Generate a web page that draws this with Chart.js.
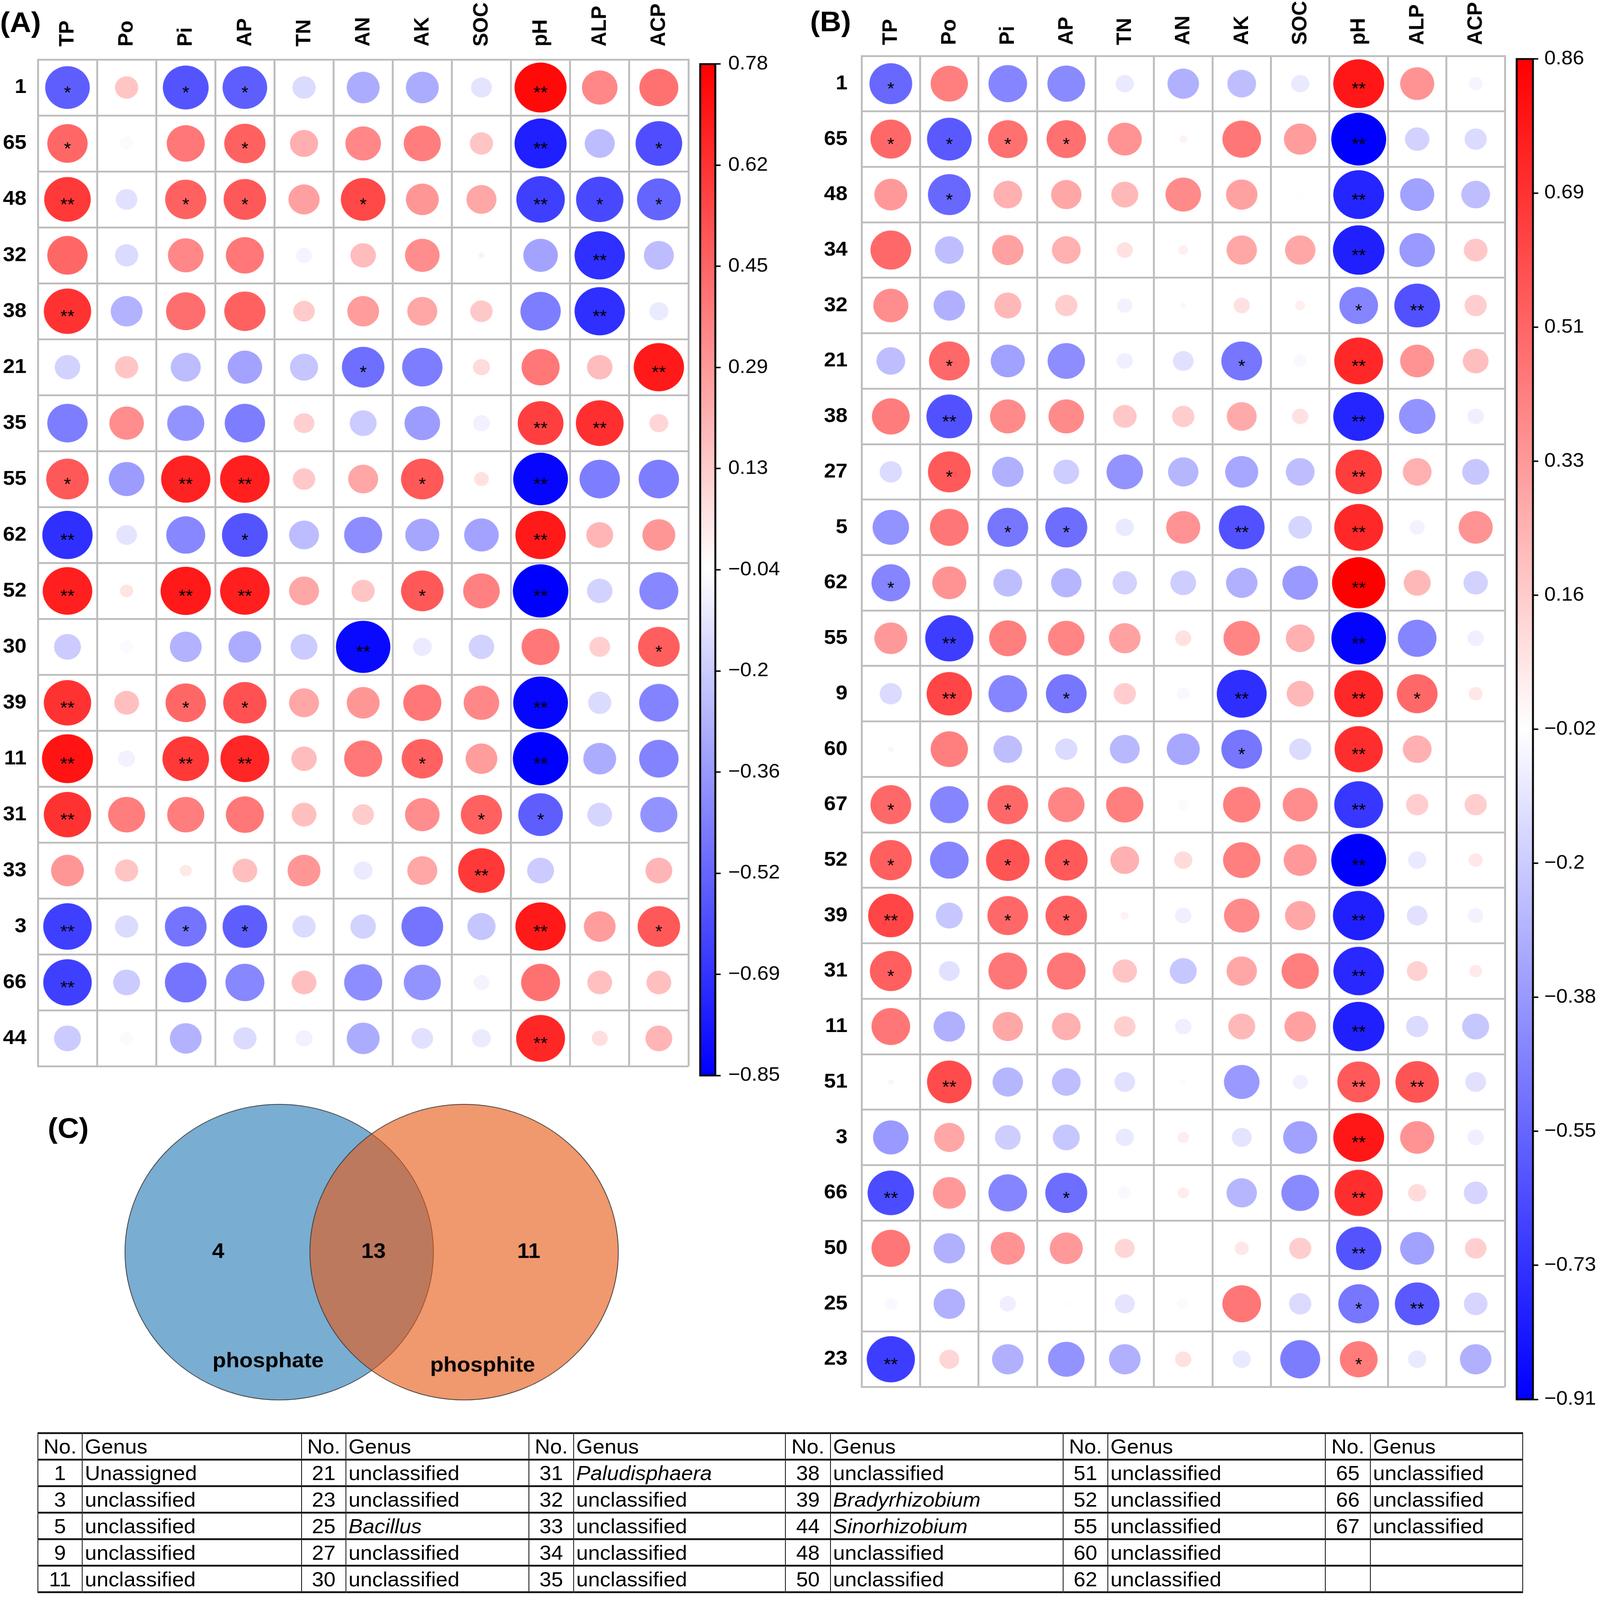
<!DOCTYPE html>
<html>
<head>
<meta charset="utf-8">
<script src="https://cdn.jsdelivr.net/npm/chart.js@4.4.1/dist/chart.umd.min.js"></script>
<style>
  html, body { margin: 0; background: #fff; overflow: hidden; }
  #fig { position: absolute; left: 0; top: 0; width: 4223px; height: 4406px; transform-origin: 0 0;
         font-family: 'Liberation Sans', Arial, sans-serif; background: #fff; }
  canvas { position: absolute; }
  .tag { position: absolute; font-weight: bold; font-size: 78px; line-height: 1; }
  #genera { position: absolute; left: 99px; top: 3944px; border-collapse: collapse; table-layout: fixed;
            font-size: 56px; }
  #genera td { height: 68px; padding: 0 6px; vertical-align: middle; white-space: nowrap; overflow: hidden;
               border-top: 5px solid #111; border-bottom: 5px solid #111;
               border-left: 2px solid #000; border-right: 2px solid #000; }
  #genera td.no { text-align: center; padding: 0; }
</style>
</head>
<body>
<div id="fig">
<div class="tag" style="left:0px;top:22px">(A)</div>
<div class="tag" style="left:2138px;top:20px">(B)</div>
<div class="tag" style="left:126px;top:3068px">(C)</div>

<canvas id="corrA" width="1833" height="3000" style="left:0px;top:0px"></canvas>
<canvas id="barA" width="320" height="2890" style="left:1833px;top:124px"></canvas>
<canvas id="corrB" width="1850" height="3890" style="left:2140px;top:0px"></canvas>
<canvas id="barB" width="235" height="3788" style="left:3988px;top:114px"></canvas>
<canvas id="venn" width="1750" height="900" style="left:0px;top:3000px"></canvas>
<table id="genera"></table>
</div>

<script>
// ---- data ----
const factors = ['TP', 'Po', 'Pi', 'AP', 'TN', 'AN', 'AK', 'SOC', 'pH', 'ALP', 'ACP'];

// (A) phosphate
const rowsA = ['1', '65', '48', '32', '38', '21', '35', '55', '62', '52', '30', '39', '11', '31', '33', '3', '66', '44'];
const valuesA = [
  [-0.55, 0.15, -0.58, -0.55, -0.15, -0.30, -0.30, -0.12, 0.75, 0.35, 0.42],
  [0.45, -0.05, 0.40, 0.47, 0.22, 0.35, 0.38, 0.15, -0.75, -0.25, -0.60],
  [0.60, -0.13, 0.47, 0.50, 0.27, 0.55, 0.30, 0.25, -0.65, -0.62, -0.53],
  [0.45, -0.15, 0.35, 0.40, -0.07, 0.18, 0.33, 0.01, -0.33, -0.70, -0.25],
  [0.62, -0.28, 0.43, 0.47, 0.13, 0.28, 0.25, 0.14, -0.45, -0.70, -0.10],
  [-0.18, 0.15, -0.25, -0.33, -0.22, -0.50, -0.45, 0.08, 0.40, 0.18, 0.70],
  [-0.45, 0.33, -0.38, -0.45, 0.12, -0.20, -0.35, -0.08, 0.58, 0.63, 0.10],
  [0.50, -0.35, 0.67, 0.68, 0.14, 0.25, 0.50, 0.06, -0.83, -0.45, -0.45],
  [-0.70, -0.12, -0.42, -0.58, -0.25, -0.40, -0.32, -0.33, 0.70, 0.20, 0.30],
  [0.68, 0.05, 0.70, 0.68, 0.25, 0.15, 0.50, 0.37, -0.85, -0.18, -0.42],
  [-0.20, -0.05, -0.28, -0.30, -0.20, -0.82, -0.10, -0.18, 0.40, 0.12, 0.48],
  [0.62, 0.17, 0.45, 0.52, 0.25, 0.30, 0.40, 0.35, -0.83, -0.15, -0.43],
  [0.72, -0.08, 0.60, 0.66, 0.18, 0.40, 0.47, 0.28, -0.85, -0.30, -0.43],
  [0.62, 0.38, 0.38, 0.40, 0.17, 0.13, 0.33, 0.47, -0.55, -0.17, -0.38],
  [0.30, 0.15, 0.04, 0.17, 0.30, -0.10, 0.25, 0.60, -0.20, 0.00, 0.20],
  [-0.65, -0.15, -0.48, -0.55, -0.15, -0.18, -0.48, -0.22, 0.70, 0.28, 0.50],
  [-0.65, -0.20, -0.48, -0.42, 0.17, -0.40, -0.38, -0.07, 0.42, 0.17, 0.17],
  [-0.20, -0.05, -0.28, -0.15, -0.08, -0.30, -0.13, -0.10, 0.66, 0.07, 0.20]
];
// number of stars per cell (1 = *, 2 = **)
const starsA = ['10110000200', '10010000201', '20110100211', '00000000020', '20000000020', '00000100002',
  '00000000220', '10220010200', '20010000200', '20220010200', '00000200001', '20110000200',
  '20220010200', '20000001100', '00000002000', '20110000201', '20000000000', '00000000200'];
const rangeA = [-0.85, 0.78];
const barTicksA = ['0.78', '0.62', '0.45', '0.29', '0.13', '−0.04', '−0.2', '−0.36', '−0.52', '−0.69', '−0.85'];

// (B) phosphite
const rowsB = ['1', '65', '48', '34', '32', '21', '38', '27', '5', '62', '55', '9', '60', '67', '52', '39', '31', '11',
  '51', '3', '66', '50', '25', '23'];
const valuesB = [
  [-0.55, 0.42, -0.45, -0.43, -0.10, -0.30, -0.25, -0.10, 0.78, 0.35, -0.06],
  [0.50, -0.60, 0.47, 0.47, 0.35, 0.02, 0.45, 0.32, -0.91, -0.18, -0.15],
  [0.33, -0.55, 0.25, 0.28, 0.22, 0.38, 0.30, -0.03, -0.78, -0.35, -0.25],
  [0.50, -0.25, 0.30, 0.25, 0.08, 0.03, 0.28, 0.28, -0.80, -0.38, 0.17],
  [0.37, -0.30, 0.22, 0.15, -0.07, 0.01, 0.08, 0.03, -0.45, -0.63, 0.15],
  [-0.25, 0.50, -0.35, -0.42, -0.08, -0.13, -0.50, -0.05, 0.72, 0.35, 0.20],
  [0.43, -0.63, 0.38, 0.38, 0.17, 0.15, 0.27, 0.08, -0.78, -0.40, -0.08],
  [-0.15, 0.55, -0.30, -0.20, -0.40, -0.28, -0.33, -0.25, 0.65, 0.25, -0.22],
  [-0.40, 0.45, -0.50, -0.53, -0.10, 0.35, -0.63, -0.17, 0.72, -0.07, 0.35],
  [-0.45, 0.35, -0.25, -0.28, -0.18, -0.20, -0.30, -0.38, 0.86, 0.22, -0.18],
  [0.33, -0.70, 0.42, 0.40, 0.30, 0.08, 0.40, 0.25, -0.90, -0.45, -0.08],
  [-0.15, 0.62, -0.45, -0.50, 0.15, -0.05, -0.75, 0.22, 0.72, 0.50, 0.06],
  [0.01, 0.42, -0.25, -0.15, -0.27, -0.33, -0.50, -0.15, 0.70, 0.25, 0.00],
  [0.50, -0.45, 0.50, 0.40, 0.42, -0.04, 0.42, 0.37, -0.72, 0.15, 0.15],
  [0.53, -0.45, 0.57, 0.55, 0.25, 0.10, 0.42, 0.33, -0.91, -0.10, 0.06],
  [0.62, -0.22, 0.50, 0.52, 0.02, -0.08, 0.38, 0.28, -0.80, -0.13, -0.07],
  [0.53, -0.13, 0.45, 0.45, 0.18, -0.22, 0.28, 0.42, -0.77, 0.13, 0.05],
  [0.45, -0.30, 0.28, 0.25, 0.14, -0.08, 0.22, 0.30, -0.80, -0.15, -0.22],
  [0.01, 0.60, -0.28, -0.25, -0.13, -0.01, -0.38, -0.07, 0.55, 0.57, -0.13],
  [-0.38, 0.28, -0.20, -0.22, -0.10, 0.04, -0.12, -0.35, 0.78, 0.35, -0.08],
  [-0.65, 0.33, -0.45, -0.53, -0.05, 0.04, -0.28, -0.43, 0.70, 0.10, -0.17],
  [0.45, -0.30, 0.35, 0.33, 0.12, 0.00, 0.06, 0.15, -0.62, -0.35, 0.14],
  [-0.05, -0.30, -0.08, -0.03, -0.12, -0.04, 0.45, -0.15, -0.50, -0.60, -0.17],
  [-0.70, 0.12, -0.30, -0.40, -0.30, 0.08, -0.10, -0.48, 0.43, -0.10, -0.30]
];
const starsB = ['10000000200', '11110000200', '01000000200', '00000000200', '00000000120', '01000010200',
  '02000000200', '01000000200', '00110020200', '10000000200', '02000000200', '02010020210',
  '00000010200', '10100000200', '10110000200', '20110000200', '10000000200', '00000000200',
  '02000000220', '00000000200', '20010000200', '00000000200', '00000000120', '20000000100'];
const rangeB = [-0.91, 0.86];
const barTicksB = ['0.86', '0.69', '0.51', '0.33', '0.16', '−0.02', '−0.2', '−0.38', '−0.55', '−0.73', '−0.91'];

// (C) Venn
const vennSets = ['phosphate', 'phosphite'];
const vennCounts = [4, 13, 11];   // phosphate only, shared, phosphite only

// genus table
const genusNo = [1, 3, 5, 9, 11, 21, 23, 25, 27, 30, 31, 32, 33, 34, 35, 38, 39, 44, 48, 50,
  51, 52, 55, 60, 62, 65, 66, 67];
const genusName = ['Unassigned', 'unclassified', 'unclassified', 'unclassified', 'unclassified',
  'unclassified', 'unclassified', 'Bacillus', 'unclassified', 'unclassified',
  'Paludisphaera', 'unclassified', 'unclassified', 'unclassified', 'unclassified',
  'unclassified', 'Bradyrhizobium', 'Sinorhizobium', 'unclassified', 'unclassified',
  'unclassified', 'unclassified', 'unclassified', 'unclassified', 'unclassified',
  'unclassified', 'unclassified', 'unclassified'];

// fit the 4223x4406 figure into whatever window we get
const fig = document.getElementById('fig');
fig.style.transform = `scale(${window.innerWidth / 4223}, ${window.innerHeight / 4406})`;

// ---- drawing ----
Chart.defaults.font.family = "'Liberation Sans', Arial, sans-serif";
Chart.defaults.color = '#000';

function corrColor(v, lo, hi) {
  const mid = (lo + hi) / 2;
  let t;
  if (v >= mid) {
    t = Math.min(1, (v - mid) / (hi - mid));
    const c = Math.round(255 * (1 - t));
    return `rgb(255,${c},${c})`;
  }
  t = Math.min(1, (mid - v) / (mid - lo));
  const c = Math.round(255 * (1 - t));
  return `rgb(${c},${c},255)`;
}

const starPlugin = {
  id: 'stars',
  afterDatasetsDraw(chart) {
    const meta = chart.getDatasetMeta(0);
    const pts = chart.data.datasets[0].data;
    const ctx = chart.ctx;
    ctx.save();
    ctx.fillStyle = '#000';
    ctx.font = "48px 'Liberation Sans', Arial, sans-serif";
    ctx.textAlign = 'center';
    ctx.textBaseline = 'alphabetic';
    meta.data.forEach((el, i) => {
      const n = pts[i].s;
      if (n) ctx.fillText('*'.repeat(n), el.x, el.y + 30);
    });
    ctx.restore();
  }
};

function corrChart(id, rows, values, stars, range, box) {
  const points = [];
  rows.forEach((r, i) => factors.forEach((f, j) => {
    points.push({ x: f, y: r, v: values[i][j], s: +stars[i][j] });
  }));
  const maxAbs = Math.max(Math.abs(range[0]), Math.abs(range[1]));
  const gridLine = { offset: true, color: '#BDBDBD', lineWidth: 5, drawTicks: false };
  const edge = { display: true, color: '#BDBDBD', width: 5 };
  const tickFont = { size: 56, weight: 'bold' };
  return new Chart(document.getElementById(id), {
    type: 'scatter',
    data: {
      datasets: [{
        data: points,
        pointStyle: 'circle',
        borderWidth: 0,
        backgroundColor: ctx => corrColor(ctx.raw.v, range[0], range[1]),
        pointRadius: ctx => {
          const a = ctx.chart.chartArea;
          if (!a || !ctx.raw) return 0;
          const cell = Math.min((a.right - a.left) / factors.length, (a.bottom - a.top) / rows.length);
          return 0.95 * cell / 2 * Math.sqrt(Math.min(1, Math.abs(ctx.raw.v) / maxAbs));
        }
      }]
    },
    options: {
      responsive: false,
      animation: false,
      events: [],
      layout: { padding: { left: 0, top: 0, right: box.padRight, bottom: box.padBottom } },
      plugins: { legend: { display: false }, tooltip: { enabled: false } },
      scales: {
        x: {
          type: 'category', labels: factors, position: 'top', offset: true,
          grid: gridLine, border: edge,
          ticks: { autoSkip: false, minRotation: 90, maxRotation: 90, padding: box.xPad, labelOffset: 68,
                   font: tickFont },
          afterFit: s => { s.height = box.top; }
        },
        y: {
          type: 'category', labels: rows, offset: true,
          grid: gridLine, border: edge,
          ticks: { autoSkip: false, padding: box.yPad, font: tickFont },
          afterFit: s => { s.width = box.left; }
        }
      }
    },
    plugins: [starPlugin]
  });
}

const gradientBar = {
  id: 'gradientBar',
  beforeDatasetsDraw(chart) {
    const { ctx, chartArea: a } = chart;
    const g = ctx.createLinearGradient(0, a.top, 0, a.bottom);
    g.addColorStop(0, '#FF0000');
    g.addColorStop(0.5, '#FFFFFF');
    g.addColorStop(1, '#0000FF');
    ctx.save();
    ctx.fillStyle = g;
    ctx.fillRect(a.left, a.top, a.right - a.left, a.bottom - a.top);
    ctx.lineWidth = 5;
    ctx.strokeStyle = '#000';
    ctx.strokeRect(a.left, a.top, a.right - a.left, a.bottom - a.top);
    ctx.restore();
  }
};

function colourBar(id, range, labels, axisWidth, pad) {
  const [lo, hi] = range;
  return new Chart(document.getElementById(id), {
    type: 'scatter',
    data: { datasets: [{ data: [] }] },
    options: {
      responsive: false,
      animation: false,
      events: [],
      layout: { padding: { left: 15, top: 40, bottom: 40, right: 0 } },
      plugins: { legend: { display: false }, tooltip: { enabled: false } },
      scales: {
        x: { display: false, min: 0, max: 1 },
        y: {
          position: 'right', min: lo, max: hi,
          border: { display: false },
          grid: { drawOnChartArea: false, drawTicks: true, tickLength: 14, color: '#000', lineWidth: 4 },
          afterBuildTicks: s => {
            s.ticks = labels.map((_, i) => ({ value: hi - i * (hi - lo) / (labels.length - 1) }));
          },
          ticks: { autoSkip: false, padding: pad, font: { size: 54 }, callback: (v, i) => labels[i] },
          afterFit: s => { s.width = axisWidth; }
        }
      }
    },
    plugins: [gradientBar]
  });
}

corrChart('corrA', rowsA, valuesA, starsA, rangeA, { left: 100, top: 164, padRight: 16, padBottom: 26, xPad: 36, yPad: 30 });
colourBar('barA', rangeA, barTicksA, 265, 20);
corrChart('corrB', rowsB, valuesB, starsB, rangeB, { left: 134, top: 154, padRight: 18, padBottom: 28, xPad: 30, yPad: 37 });
colourBar('barB', rangeB, barTicksB, 177, 16);

// Venn: the two sets sit one unit apart on a hidden linear axis
const vennCentreX = [-0.5, 0.5];
const vennRadius = 0.834;
const countAt = [-0.83, 0.01, 0.85];
const nameAt = [[-0.56, -0.617], [0.6, -0.641]];

const vennText = {
  id: 'vennText',
  afterDatasetsDraw(chart) {
    const { ctx, scales: { x, y } } = chart;
    ctx.save();
    ctx.fillStyle = '#000';
    ctx.textAlign = 'center';
    ctx.textBaseline = 'middle';
    ctx.font = "bold 58px 'Liberation Sans', Arial, sans-serif";
    vennCounts.forEach((n, i) => ctx.fillText(String(n), x.getPixelForValue(countAt[i]), y.getPixelForValue(0)));
    vennSets.forEach((s, i) => ctx.fillText(s, x.getPixelForValue(nameAt[i][0]), y.getPixelForValue(nameAt[i][1])));
    ctx.restore();
  }
};

new Chart(document.getElementById('venn'), {
  type: 'scatter',
  data: {
    datasets: [{
      data: vennSets.map((s, i) => ({ x: vennCentreX[i], y: 0 })),
      pointStyle: 'circle',
      backgroundColor: ['#7AADD2', 'rgba(231,89,21,0.62)'],
      borderColor: '#3a3a3a',
      borderWidth: 2,
      pointRadius: ctx => {
        if (!ctx.chart.chartArea) return 0;
        const x = ctx.chart.scales.x;
        const r = x.getPixelForValue(vennRadius) - x.getPixelForValue(0);
        return isFinite(r) ? r : 0;
      }
    }]
  },
  options: {
    responsive: false,
    animation: false,
    events: [],
    layout: { padding: 0 },
    plugins: { legend: { display: false }, tooltip: { enabled: false } },
    scales: {
      x: { type: 'linear', display: false, min: -2.01, max: 1.576 },
      y: { type: 'linear', display: false, min: -0.926, max: 0.918 }
    }
  },
  plugins: [vennText]
});

// genus table, 6 blocks of 5 rows
const colWidths = [117, 579, 117, 483, 118, 559, 119, 614, 118, 574, 119, 402];
const table = document.getElementById('genera');
const cg = document.createElement('colgroup');
colWidths.forEach(w => { const c = document.createElement('col'); c.style.width = w + 'px'; cg.appendChild(c); });
table.appendChild(cg);
const head = table.insertRow();
for (let b = 0; b < 6; b++) {
  const a = head.insertCell(); a.textContent = 'No.'; a.className = 'no';
  const g = head.insertCell(); g.textContent = 'Genus';
}
for (let r = 0; r < 5; r++) {
  const tr = table.insertRow();
  for (let b = 0; b < 6; b++) {
    const k = b * 5 + r;
    const a = tr.insertCell(); a.className = 'no';
    const g = tr.insertCell();
    if (k < genusNo.length) {
      a.textContent = genusNo[k];
      g.textContent = genusName[k];
      if (!/^(unclassified|Unassigned)$/.test(genusName[k])) g.style.fontStyle = 'italic';
    }
  }
}
</script>
</body>
</html>
